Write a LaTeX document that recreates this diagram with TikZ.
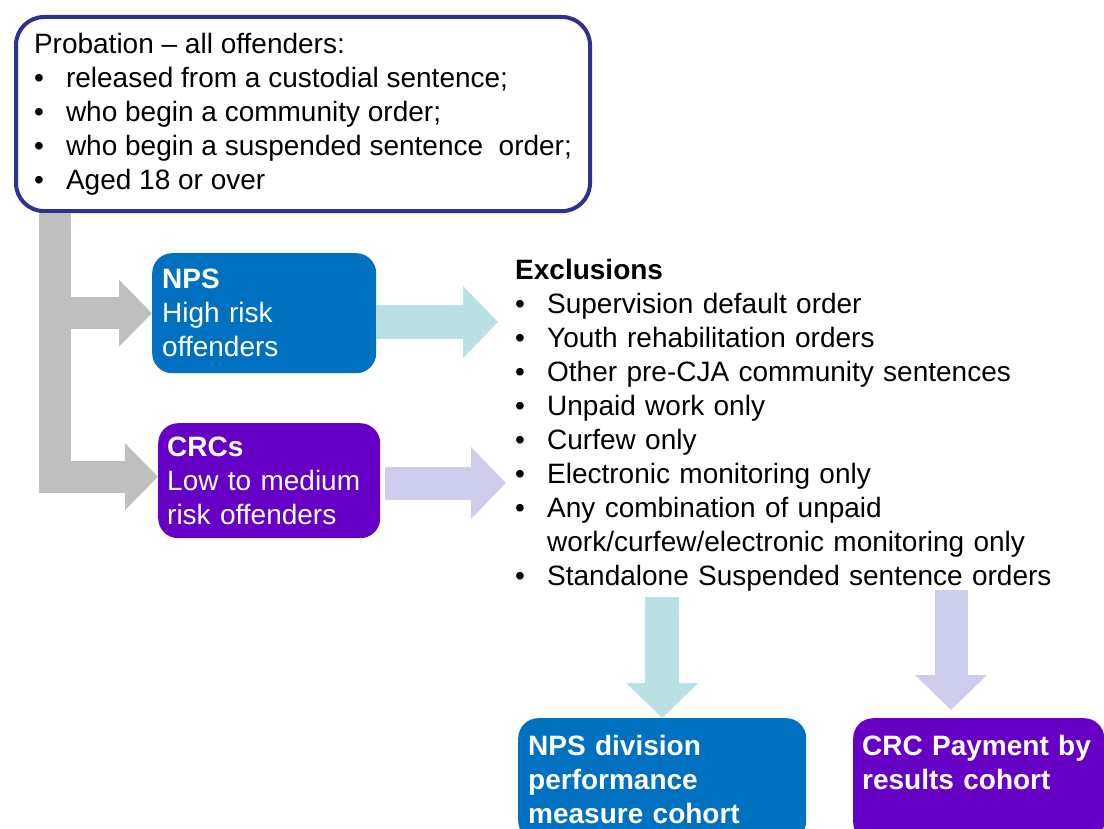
\documentclass[tikz,border=0pt]{standalone}
\usepackage{fontspec}
\setmainfont{Liberation Sans}
\usetikzlibrary{arrows.meta}

\definecolor{navyline}{HTML}{2E3192}
\definecolor{npsblue}{HTML}{0070C0}
\definecolor{crcpurple}{RGB}{102,0,196}
\definecolor{greyarrow}{HTML}{BFBFBF}
\definecolor{tealarrow}{HTML}{B9E0E2}
\definecolor{lavarrow}{HTML}{CDCDEE}

\newcommand{\bul}{\makebox[32pt][l]{\textbullet}}

\begin{document}
\begin{tikzpicture}[x=1pt,y=-1pt,
  every node/.style={font=\fontsize{28}{34}\selectfont},
  group/.style={rounded corners=20pt,text=white,align=left,anchor=north west},
  greyarm/.style={draw=greyarrow,line width=32pt,line join=miter,-{Triangle[width=65pt,length=33pt]}},
  tealarm/.style={draw=tealarrow,line width=34pt,-{Triangle[width=70pt,length=35pt]}},
  lavarm/.style={draw=lavarrow,line width=33pt,-{Triangle[width=70pt,length=35pt]}}]
\useasboundingbox (0,0) rectangle (1104,829);

%Probation
\node[draw=navyline,line width=4pt,fill=white,rounded corners=28pt,anchor=north west,
  minimum width=574pt,inner xsep=14pt,inner ysep=16pt,align=left] (probation) at (14,15)
  {Probation – all offenders:\\
   \bul released from a custodial sentence;\\
   \bul who begin a community order;\\
   \bul who begin a suspended sentence\ \ order;\\
   \bul Aged 18 or over};

%Providers
\node[group,fill=npsblue,minimum width=224pt,minimum height=120pt,text width=204pt,inner xsep=10pt]
  (nps) at (152,253) {\textbf{NPS}\\High risk\\offenders};
\node[group,fill=crcpurple,minimum width=222pt,minimum height=115pt,text width=204pt,inner xsep=9pt]
  (crc) at (158,423) {\textbf{CRCs}\\Low to medium\\risk offenders};

%Exclusions
\node[anchor=north west,inner sep=0pt,text width=580pt,align=left] (excl) at (515,259)
  {\textbf{Exclusions}\\
   \bul Supervision default order\\
   \bul Youth rehabilitation orders\\
   \bul Other pre-CJA community sentences\\
   \bul Unpaid work only\\
   \bul Curfew only\\
   \bul Electronic monitoring only\\
   \bul Any combination of unpaid\\
   \hspace*{32pt}work/curfew/electronic monitoring only\\
   \bul Standalone Suspended sentence orders};

%Cohorts
\node[group,fill=npsblue,font=\fontsize{28}{34}\selectfont\bfseries,text width=268pt,
  inner xsep=10pt,inner ysep=17pt] (npscohort) at (518,718)
  {NPS division\\performance\\measure cohort};
\node[group,fill=crcpurple,font=\fontsize{28}{34}\selectfont\bfseries,text width=233pt,
  inner xsep=9pt,inner ysep=17pt,text depth=70pt] (crccohort) at (853,718)
  {CRC Payment by\\results cohort};

%Arrows
\coordinate (trunk) at ([xshift=41pt]probation.south west);
\coordinate (npstip) at (498,322);
\coordinate (crcstart) at (385,483);
\coordinate (crctip) at (506,483);
\coordinate (npsdrop) at (662,597);
\coordinate (crcdrop) at (951,590);

\draw[greyarm] (trunk) |- ([yshift=4pt]crc.west);
\draw[greyarm] (trunk |- nps.west) -- (nps.west);
\draw[tealarm] (nps.east |- npstip) -- (npstip);
\draw[lavarm] (crcstart) -- (crctip);
\draw[tealarm] (npscohort.north |- npsdrop) -- (npscohort.north);
\draw[lavarm] (crcdrop) -- ([yshift=8pt]crccohort.north -| crcdrop);
\end{tikzpicture}
\end{document}
